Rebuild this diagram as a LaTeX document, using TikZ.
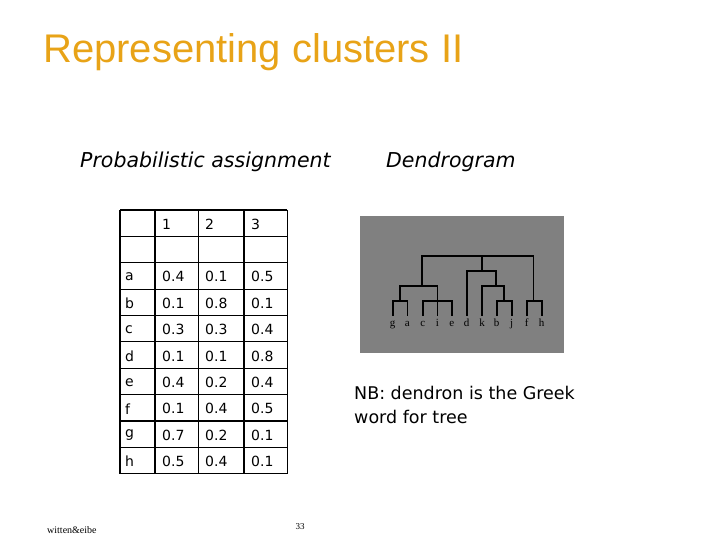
\documentclass[tikz,border=0pt]{standalone}
\usepackage{fontspec}
\setmainfont{DejaVu Sans}
\newfontfamily\titlefont{Liberation Sans}
\newfontfamily\serifx{Liberation Serif}
\definecolor{ttl}{HTML}{E8A317}
\definecolor{dgray}{HTML}{808080}
\begin{document}
\begin{tikzpicture}[x=1pt,y=-1pt,
  cell/.style={anchor=west,font=\fontsize{14}{16}\selectfont,inner sep=0pt},
  leaf/.style={font=\serifx\fontsize{11}{11}\selectfont,inner sep=0pt,anchor=base},
  dl/.style={line width=1.6pt,black}]
\useasboundingbox (0,0) rectangle (720,540);
\node[anchor=west,text=ttl,font=\titlefont\fontsize{40}{44}\selectfont,inner sep=0pt] (title) at (43,52) {Representing clusters II};
\node[anchor=west,font=\itshape\fontsize{20.5}{24}\selectfont,inner sep=0pt] (pa) at (80,162) {Probabilistic assignment};
\node[anchor=west,font=\itshape\fontsize{20.5}{24}\selectfont,inner sep=0pt] (dg) at (386,162) {Dendrogram};
% table
\foreach \x in {120,155,198.3,244,287.3} \draw[line width=1.2pt] (\x,210) -- (\x,473.7);
\foreach \k in {0,...,10} \draw[line width=1.2pt] (120,210+26.37*\k) -- (287.3,210+26.37*\k);
\node[cell] (h1) at (162,224) {1};
\node[cell] (h2) at (205,224) {2};
\node[cell] (h3) at (251,224) {3};
\foreach \r/\a/\b/\c [count=\i] in {a/0.4/0.1/0.5,b/0.1/0.8/0.1,c/0.3/0.3/0.4,d/0.1/0.1/0.8,e/0.4/0.2/0.4,f/0.1/0.4/0.5,g/0.7/0.2/0.1,h/0.5/0.4/0.1}{
  \node[cell] (r\i) at (125,250.5+26.37*\i) {\r};
  \node[cell] (a\i) at (162,250.5+26.37*\i) {\a};
  \node[cell] (b\i) at (205,250.5+26.37*\i) {\b};
  \node[cell] (c\i) at (251,250.5+26.37*\i) {\c};
}
% dendrogram
\fill[dgray] (360,216) rectangle (564,353);
\foreach \n/\x in {g/392.7,a/407.3,c/422.7,i/437.3,e/451.7,d/466.7,k/482,b/496.7,j/511.7,f/526.7,h/541.7}
  \node[leaf] (L\n) at (\x,326) {\n};
\draw[dl] (392.7,315.7) |- (407.3,300.7) -- (407.3,315.7);
\draw[dl] (422.7,315.7) |- (451.7,300.7) -- (451.7,315.7);
\draw[dl] (437.3,315.7) -- (437.3,300.7);
\draw[dl] (496.7,315.7) |- (511.7,300.7) -- (511.7,315.7);
\draw[dl] (526.7,315.7) |- (541.7,300.7) -- (541.7,315.7);
\draw[dl] (400,300.7) |- (437.3,285.7) -- (437.3,300.7);
\draw[dl] (482,315.7) |- (504.2,285.7) -- (504.2,300.7);
\draw[dl] (466.7,315.7) |- (496,270.7) -- (496,285.7);
\draw[dl] (421.7,285.7) |- (533.3,255.7) -- (533.3,300.7);
\draw[dl] (482,270.7) -- (482,255.7);
\node[anchor=north west,align=left,font=\fontsize{17.5}{24}\selectfont,inner sep=0pt] (nb) at (354,386) {NB: dendron is the Greek\\word for tree};
\node[anchor=west,font=\serifx\fontsize{10}{10}\selectfont,inner sep=0pt] (w) at (47,530) {witten\&eibe};
\node[font=\serifx\fontsize{9}{10}\selectfont,inner sep=0pt] (pg) at (300,527) {33};
\end{tikzpicture}
\end{document}
